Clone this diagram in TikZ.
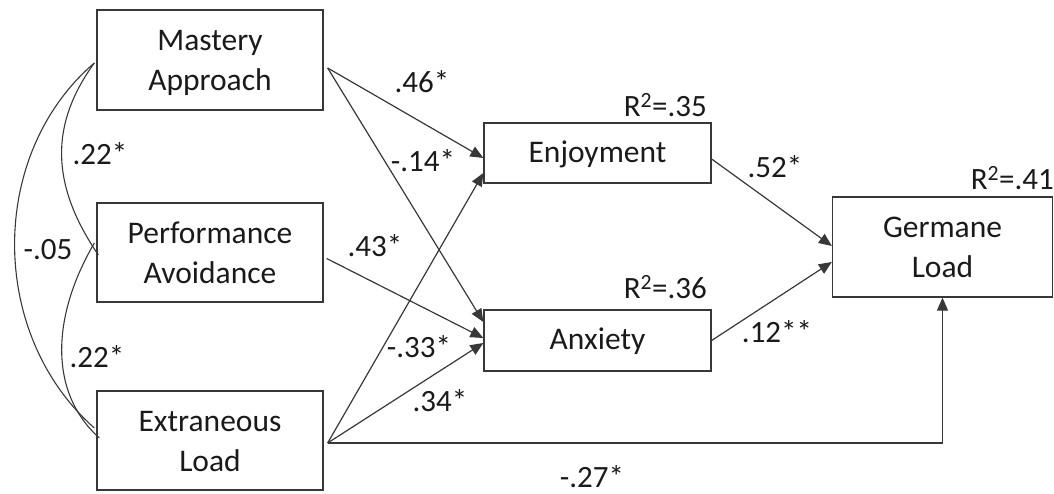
\documentclass[tikz,border=0pt]{standalone}
\usepackage{fontspec}
\setmainfont{Carlito}
\usetikzlibrary{arrows.meta}
\definecolor{ln}{HTML}{383838}
\definecolor{tx}{HTML}{1A1A1A}
\newcommand{\topstrut}{\rule{0pt}{30pt}}
\newcommand{\botstrut}{\rule[-8pt]{0pt}{8pt}}
\newcommand{\onestrut}{\rule[-8pt]{0pt}{35pt}}
\begin{document}
\begin{tikzpicture}[x=1pt,y=1pt,
  box/.style={draw=ln,line width=1.3pt,align=center,inner sep=0pt,text=tx,
    font=\fontsize{31.5}{40}\selectfont},
  lab/.style={anchor=base,inner sep=0pt,text=tx,font=\fontsize{31}{36}\selectfont},
  rsq/.style={anchor=base east,inner sep=0pt,text=tx,font=\fontsize{31}{36}\selectfont},
  arr/.style={draw=ln,line width=1.2pt,-{Triangle[length=13pt,width=11pt]}},
  cor/.style={draw=ln,line width=1.1pt}]
\useasboundingbox (0,0) rectangle (1054,494);
% boxes
\node[box,minimum width=226pt,minimum height=100pt] (ma) at (210,434) {\topstrut Mastery\\Approach\botstrut};
\node[box,minimum width=226pt,minimum height=99pt] (pa) at (210,241.5) {\topstrut Performance\\Avoidance\botstrut};
\node[box,minimum width=226pt,minimum height=99pt] (el) at (210,53.5) {\topstrut Extraneous\\Load\botstrut};
\node[box,minimum width=227pt,minimum height=60pt] (enj) at (597.5,341) {\onestrut Enjoyment};
\node[box,minimum width=227pt,minimum height=61pt] (anx) at (597.5,153.5) {\onestrut Anxiety};
\node[box,minimum width=220pt,minimum height=100pt] (gl) at (942.5,247) {\topstrut Germane\\Load\botstrut};
% R squared
\node[rsq] (r1) at (707,377) {R\textsuperscript{2}=.35};
\node[rsq] (r2) at (707,195) {R\textsuperscript{2}=.36};
\node[rsq] (r3) at (1054,304) {R\textsuperscript{2}=.41};
% connection points
\coordinate (maO) at ([shift={(4,-8)}]ma.east);
\coordinate (paO) at ([shift={(3,-6)}]pa.east);
\coordinate (elO) at ([shift={(4,-2.5)}]el.east);
\coordinate (enjO) at ([shift={(0,-6)}]enj.east);
\coordinate (anxO) at ([shift={(0,0)}]anx.east);
\coordinate (maL) at ([shift={(-2,-3)}]ma.west);
\coordinate (paLt) at ([shift={(2,-2.5)}]pa.west);
\coordinate (paLb) at ([shift={(-2,9.5)}]pa.west);
\coordinate (elLt) at ([shift={(3,2.5)}]el.west);
\coordinate (elLb) at ([shift={(-2,12.5)}]el.west);
% paths
\draw[arr] (maO) -- ([yshift=-5]enj.west);
\draw[arr] (maO) -- ([yshift=18.5]anx.west);
\draw[arr] (paO) -- ([yshift=2.5]anx.west);
\draw[arr] (elO) -- ([yshift=-20]enj.west);
\draw[arr] (elO) -- ([yshift=-2.5]anx.west);
\draw[arr] (elO) -- (elO -| gl.south) -- (gl.south);
\draw[arr] (enjO) -- ([yshift=1]gl.west);
\draw[arr] (anxO) -- ([yshift=-15]gl.west);
% correlations
\draw[cor] (maL) .. controls (50,370) and (50,310) .. (paLt);
\draw[cor] (maL) .. controls (-12,340) and (-12,160) .. (elLb);
\draw[cor] (paLb) .. controls (50,175) and (50,100) .. (elLt);
% labels
\node[lab] (l1) at (422,401) {.46*};
\node[lab] (l2) at (423,322) {-.14*};
\node[lab] (l3) at (375,237) {.43*};
\node[lab] (l4) at (419,136) {-.33*};
\node[lab] (l5) at (440,82) {.34*};
\node[lab] (l6) at (592,6) {-.27*};
\node[lab] (l7) at (775,316) {.52*};
\node[lab] (l8) at (777,151) {.12**};
\node[lab] (l9) at (100,329) {.22*};
\node[lab] (l10) at (48,234) {-.05};
\node[lab] (l11) at (97,126) {.22*};
\end{tikzpicture}
\end{document}
